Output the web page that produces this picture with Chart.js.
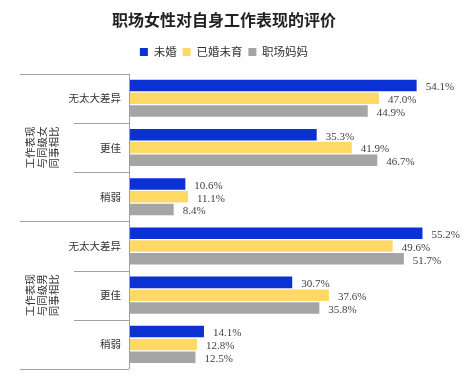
<!DOCTYPE html>
<html>
<head>
<meta charset="utf-8">
<script src="https://cdn.jsdelivr.net/npm/chart.js@4.4.0/dist/chart.umd.min.js"></script>
<style>
  html, body { margin: 0; padding: 0; background: #fff; }
  #wrap { width: 474px; height: 377px; }
</style>
</head>
<body>
<div id="wrap"><canvas id="myChart" width="474" height="377"></canvas></div>
<script>
const categories = ['无太大差异', '更佳', '稍弱', '无太大差异', '更佳', '稍弱'];
const groups = [['工作表现', '与同级女', '同事相比'], ['工作表现', '与同级男', '同事相比']];
const unmarried = [54.1, 35.3, 10.6, 55.2, 30.7, 14.1];
const marriedNoKids = [47.0, 41.9, 11.1, 49.6, 37.6, 12.8];
const workingMoms = [44.9, 46.7, 8.4, 51.7, 35.8, 12.5];

const cjk = '"Noto Sans CJK SC", "Noto Sans", sans-serif';

// a bit more room under the legend
const legendGap = {
  id: 'legendGap',
  afterInit(chart) {
    const legend = chart.legend;
    if (!legend) return;
    const fit = legend.fit;
    legend.fit = function () {
      fit.call(this);
      this.height += 6;
    };
  }
};

// value labels, slightly right of and below each bar end
const valueLabels = {
  id: 'valueLabels',
  afterDatasetsDraw(chart) {
    const ctx = chart.ctx;
    ctx.save();
    ctx.font = '11px "Liberation Serif", serif';
    ctx.fillStyle = '#404040';
    ctx.textAlign = 'left';
    ctx.textBaseline = 'middle';
    chart.data.datasets.forEach((ds, i) => {
      chart.getDatasetMeta(i).data.forEach((bar, j) => {
        ctx.fillText(ds.data[j].toFixed(1) + '%', bar.x + 9, bar.y + 2);
      });
    });
    ctx.restore();
  }
};

// separators and vertical group labels on the left
const groupAxis = {
  id: 'groupAxis',
  afterDraw(chart) {
    const ctx = chart.ctx;
    const area = chart.chartArea;
    const n = categories.length;
    const band = (area.bottom - area.top) / n;
    ctx.save();
    ctx.strokeStyle = '#a0a0a0';
    ctx.lineWidth = 1;
    ctx.beginPath();
    ctx.moveTo(area.left + 0.5, area.top);
    ctx.lineTo(area.left + 0.5, area.bottom);
    for (let i = 0; i <= n; i++) {
      const yy = Math.round(area.top + band * i) + 0.5;
      const x0 = i % 3 === 0 ? 20 : 74;
      ctx.moveTo(x0, yy);
      ctx.lineTo(area.left, yy);
    }
    ctx.stroke();

    ctx.font = '10.5px ' + cjk;
    ctx.fillStyle = '#333';
    ctx.textAlign = 'center';
    ctx.textBaseline = 'middle';
    groups.forEach((lines, g) => {
      const cy = area.top + band * (g * 3 + 1.5);
      lines.forEach((t, k) => {
        ctx.save();
        ctx.translate(30 + k * 12, cy);
        ctx.rotate(-Math.PI / 2);
        ctx.fillText(t, 0, 0);
        ctx.restore();
      });
    });
    ctx.restore();
  }
};

const ctx = document.getElementById('myChart').getContext('2d');
const myChart = new Chart(ctx, {
  type: 'bar',
  data: {
    labels: categories,
    datasets: [
      { label: '未婚', data: unmarried, backgroundColor: '#0a32d2' },
      { label: '已婚未育', data: marriedNoKids, backgroundColor: '#ffd966' },
      { label: '职场妈妈', data: workingMoms, backgroundColor: '#a5a5a5' },
    ],
  },
  options: {
    indexAxis: 'y',
    responsive: false,
    animation: false,
    devicePixelRatio: 1,
    categoryPercentage: 0.78,
    barPercentage: 0.9,
    layout: { padding: { left: 0, right: 26, top: 6, bottom: 8 } },
    plugins: {
      title: {
        display: true,
        text: '职场女性对自身工作表现的评价',
        color: '#222',
        font: { family: cjk, size: 16, weight: 'bold' },
        padding: { top: 4, bottom: 11 },
      },
      legend: {
        display: true,
        labels: {
          color: '#333',
          boxWidth: 8,
          boxHeight: 8,
          padding: 6,
          font: { family: cjk, size: 11.5 },
        },
      },
      tooltip: { enabled: false },
    },
    scales: {
      x: { display: false, min: 0, max: 60 },
      y: {
        grid: { display: false },
        border: { display: false },
        ticks: { color: '#333', padding: 0, font: { family: cjk, size: 10.5 } },
        afterFit(scale) { scale.width = 129; },
      },
    },
  },
  plugins: [legendGap, valueLabels, groupAxis],
});
</script>
</body>
</html>
